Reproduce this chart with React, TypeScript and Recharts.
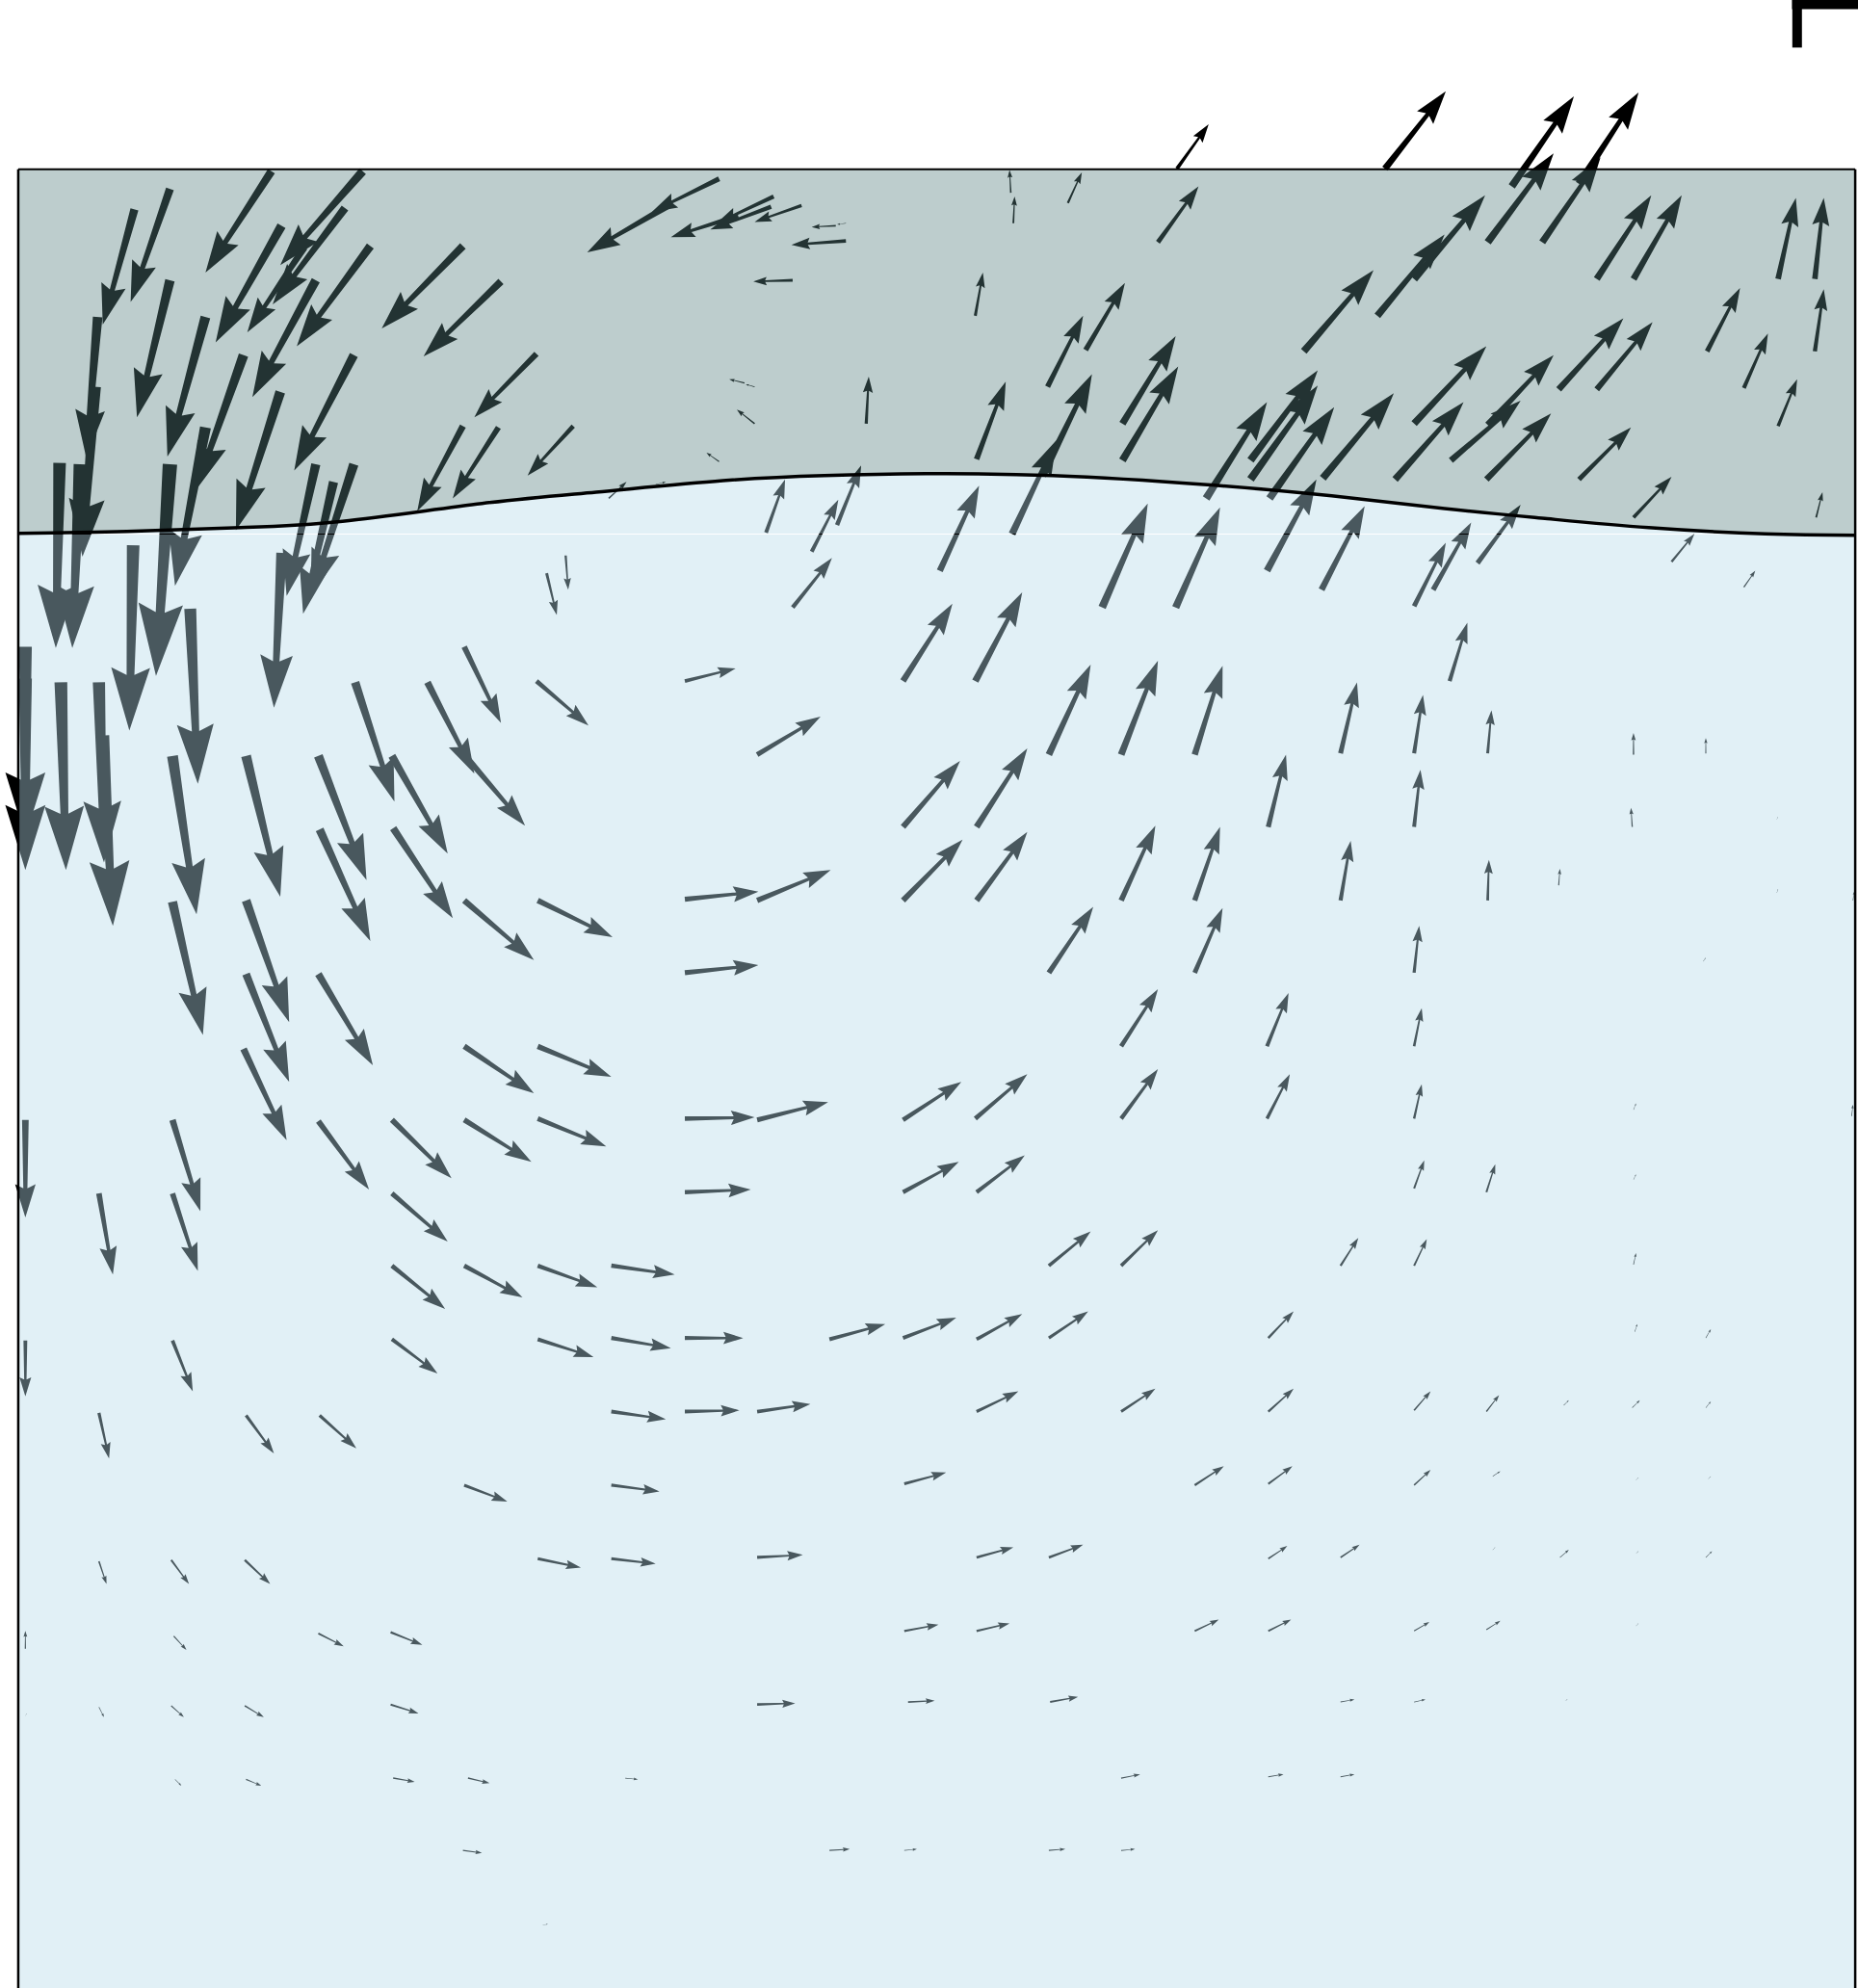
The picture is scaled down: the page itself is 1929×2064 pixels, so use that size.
import React from "react";
import { ComposedChart, Area, Line, Scatter, XAxis, YAxis, ReferenceLine } from "recharts";

type Seg = [number, number, number, number];

const WIDTH = 1929;
const HEIGHT = 2064;
const X_MAX = 1465;
const Y_MAX = 1567.5;
const FRAME = { left: 14.4, right: 1462.8, top: 133.4, bottom: 1567.5 };
const BAND_FLOOR = 421;

const waveX = [14.4, 100, 190, 270, 380, 470, 570, 650, 730, 830, 949, 1050, 1139, 1220, 1300, 1392, 1462.8];
const waveY = [420.5, 419, 416, 411, 397, 388, 379, 375, 373.5, 375, 382, 391, 401, 409, 416, 421, 422];

// tail x, tail y, tip x, tip y
const bandRight: Seg[] = [
  [799, 176, 800, 155], [797, 152, 796, 134], [842, 160, 853, 136], [928, 133, 953, 98], [913, 191, 945, 147],
  [1092, 133, 1140, 72], [1192, 147, 1241, 76], [1173, 191, 1225, 121], [1216, 191, 1262, 124], [1245, 145, 1292, 73],
  [1259, 220, 1302, 154], [1288, 220, 1326, 154], [1402, 220, 1416, 156], [1431, 220, 1438, 156], [1346, 277, 1372, 227],
  [1431, 277, 1438, 228], [1375, 306, 1394, 263], [1402, 336, 1417, 299], [1229, 307, 1280, 251], [1259, 307, 1303, 254],
  [1115, 334, 1172, 273], [1144, 363, 1199, 316], [1173, 335, 1225, 280], [1172, 378, 1223, 326], [1100, 378, 1154, 317],
  [1245, 378, 1286, 337], [1288, 408, 1318, 376], [1086, 249, 1139, 185], [1115, 220, 1171, 154], [1028, 277, 1083, 213],
  [770, 362, 793, 301], [826, 305, 854, 249], [856, 276, 887, 223], [885, 334, 927, 265], [885, 363, 929, 289],
  [769, 249, 775, 215], [798, 421, 833, 347], [822, 375, 861, 295], [951, 393, 999, 317], [986, 363, 1039, 292],
  [986, 378, 1039, 304], [1001, 393, 1052, 321], [1043, 377, 1099, 310], [999, 450, 1038, 378], [1042, 465, 1076, 399],
  [927, 479, 962, 400], [869, 479, 905, 397], [741, 450, 772, 383], [1115, 478, 1140, 428], [1130, 465, 1160, 412],
  [1165, 444, 1199, 398], [1318, 443, 1336, 421], [1375, 463, 1384, 450], [1432, 408, 1437, 388],
];

const bandMiddle: Seg[] = [
  [567, 141, 514, 167], [529, 161, 463, 199], [610, 155, 565, 176], [582, 170, 529, 187], [608, 163, 560, 181],
  [632, 162, 595, 175], [667, 176, 660, 177], [659, 178, 640, 179], [667, 190, 624, 193], [625, 221, 594, 222],
  [595, 305, 588, 303], [587, 302, 575, 299], [595, 334, 581, 323], [567, 364, 557, 357], [683, 334, 685, 297],
  [452, 336, 416, 375], [423, 279, 374, 329], [393, 337, 357, 393], [365, 336, 329, 403], [480, 393, 494, 380],
  [517, 382, 525, 380], [604, 420, 619, 378], [640, 435, 661, 394], [660, 414, 679, 367], [625, 479, 656, 440],
  [446, 438, 448, 465], [431, 452, 439, 485],
];

const bandLeft: Seg[] = [
  [134, 149, 103, 238], [106, 165, 81, 256], [214, 135, 162, 215], [286, 135, 221, 209], [272, 164, 215, 240],
  [240, 195, 195, 262], [222, 178, 170, 270], [292, 194, 234, 273], [365, 194, 301, 259], [395, 222, 334, 281],
  [249, 221, 199, 313], [279, 280, 232, 371], [134, 221, 108, 329], [162, 250, 132, 360], [192, 280, 154, 387],
  [221, 309, 186, 418], [162, 337, 138, 462], [134, 366, 123, 533], [77, 250, 68, 361], [75, 305, 65, 439],
  [47, 365, 44, 511], [63, 366, 57, 511], [249, 366, 226, 470], [279, 366, 245, 470], [263, 380, 239, 484],
  [222, 436, 216, 558], [105, 430, 102, 576], [150, 480, 156, 618], [20, 510, 20, 660], [20, 535, 20, 686],
  [48, 538, 52, 686], [78, 538, 82, 680], [81, 580, 89, 730], [136, 596, 155, 721], [136, 711, 160, 816],
  [194, 596, 221, 707], [194, 710, 228, 806], [194, 768, 228, 853], [192, 827, 226, 899], [251, 596, 289, 694],
  [252, 654, 292, 742], [251, 768, 294, 840], [280, 538, 311, 632], [309, 596, 353, 673], [310, 653, 357, 724],
  [337, 538, 374, 610], [366, 510, 395, 570], [366, 595, 414, 651],
];

const interiorUpper: Seg[] = [
  [423, 537, 464, 572], [424, 710, 483, 739], [540, 537, 580, 527], [597, 595, 647, 565], [712, 537, 751, 476],
  [769, 537, 806, 467], [712, 652, 757, 600], [770, 652, 810, 590], [827, 595, 860, 524], [884, 595, 913, 521],
  [942, 595, 964, 525], [1000, 652, 1014, 595], [1057, 594, 1070, 538], [1115, 594, 1122, 548], [1143, 537, 1157, 491],
  [1173, 594, 1176, 560], [1115, 652, 1120, 607], [1057, 710, 1065, 663], [942, 710, 962, 652], [884, 710, 911, 651],
  [770, 710, 810, 656], [712, 710, 759, 662], [597, 710, 655, 686], [540, 709, 598, 703], [540, 767, 598, 761],
  [827, 767, 862, 715], [942, 767, 964, 716], [1115, 767, 1119, 730], [1173, 710, 1174, 678], [1229, 698, 1230, 685],
  [366, 710, 421, 757], [884, 825, 913, 780], [999, 825, 1016, 783], [1115, 825, 1121, 795], [1115, 882, 1121, 855],
  [999, 882, 1017, 847], [884, 882, 913, 843], [769, 882, 810, 847], [712, 883, 758, 853], [597, 883, 653, 869],
  [540, 882, 595, 881], [424, 825, 482, 849], [366, 825, 421, 862], [424, 882, 478, 904], [366, 883, 419, 916],
  [309, 883, 356, 929], [251, 884, 291, 938], [136, 883, 158, 955], [20, 883, 20, 960],
];

const interiorMiddle: Seg[] = [
  [136, 941, 156, 1002], [78, 941, 89, 1005], [309, 941, 353, 979], [309, 998, 351, 1032], [366, 998, 412, 1023],
  [424, 998, 471, 1015], [482, 998, 532, 1005], [540, 940, 592, 938], [712, 940, 756, 916], [770, 940, 808, 911],
  [827, 998, 860, 971], [884, 998, 913, 970], [1057, 998, 1071, 976], [1115, 998, 1125, 977], [1115, 937, 1123, 915],
  [1172, 940, 1179, 918], [20, 1057, 20, 1101], [136, 1057, 152, 1097], [309, 1056, 345, 1083], [424, 1056, 468, 1070],
  [482, 1055, 529, 1063], [540, 1055, 586, 1055], [654, 1056, 698, 1044], [712, 1055, 754, 1039], [770, 1056, 806, 1036],
  [827, 1055, 858, 1034], [1000, 1055, 1020, 1034], [78, 1114, 86, 1150], [194, 1116, 216, 1146], [252, 1116, 281, 1142],
  [482, 1113, 525, 1119], [540, 1113, 583, 1112], [597, 1113, 639, 1107], [770, 1113, 803, 1097], [884, 1113, 911, 1095],
  [1000, 1113, 1020, 1095], [1115, 1112, 1128, 1097], [1172, 1113, 1182, 1100], [366, 1171, 400, 1184], [482, 1171, 520, 1176],
  [713, 1170, 746, 1161], [942, 1171, 965, 1156], [1000, 1170, 1019, 1156], [1115, 1171, 1128, 1159], [1177, 1164, 1183, 1160],
];

const interiorLower: Seg[] = [
  [78, 1231, 84, 1249], [135, 1230, 149, 1249], [193, 1230, 213, 1249], [424, 1229, 458, 1236], [482, 1229, 517, 1233],
  [597, 1228, 633, 1226], [770, 1228, 799, 1220], [827, 1228, 854, 1218], [1000, 1229, 1015, 1219], [1057, 1228, 1072, 1218],
  [1230, 1228, 1237, 1222], [1345, 1228, 1350, 1223], [20, 1300, 20, 1286], [137, 1290, 147, 1301], [251, 1288, 271, 1298],
  [308, 1287, 333, 1297], [713, 1286, 740, 1281], [770, 1286, 796, 1280], [942, 1286, 961, 1277], [1000, 1286, 1018, 1277],
  [1115, 1286, 1127, 1279], [1172, 1285, 1183, 1278], [78, 1346, 82, 1354], [135, 1345, 145, 1354], [193, 1345, 208, 1354],
  [308, 1344, 330, 1351], [597, 1344, 627, 1343], [716, 1342, 737, 1341], [828, 1342, 850, 1338], [1057, 1342, 1068, 1340],
  [1115, 1342, 1124, 1340], [138, 1403, 143, 1408], [194, 1403, 206, 1408], [310, 1402, 327, 1405], [369, 1402, 386, 1406],
  [493, 1402, 503, 1403], [884, 1402, 899, 1399], [1000, 1401, 1012, 1399], [1057, 1401, 1068, 1399], [365, 1459, 380, 1461],
  [654, 1459, 670, 1458], [713, 1459, 723, 1458], [827, 1459, 840, 1458], [884, 1459, 895, 1458], [428, 1518, 432, 1517],
];

const interiorFaintRight: Seg[] = [
  [1287, 1110, 1293, 1104], [1233, 1108, 1237, 1104], [1345, 1110, 1349, 1105], [1289, 1050, 1291, 1044], [1345, 1055, 1349, 1048],
  [1288, 997, 1290, 988], [1288, 930, 1290, 926], [1288, 875, 1290, 870], [1343, 758, 1345, 755], [1401, 704, 1402, 701],
  [1401, 646, 1402, 644], [1287, 652, 1286, 637], [1345, 594, 1345, 582], [1288, 595, 1288, 578], [1461, 710, 1462, 703],
  [1460, 880, 1461, 871], [1290, 1167, 1292, 1165], [1347, 1166, 1349, 1164], [1290, 1225, 1292, 1223], [1234, 1341, 1236, 1340],
  [1177, 1222, 1179, 1220], [1290, 1282, 1292, 1280], [20, 1353, 21, 1351],
];

const arrowData = [...bandLeft, ...bandMiddle, ...bandRight, ...interiorUpper, ...interiorMiddle, ...interiorLower, ...interiorFaintRight].map(
  ([x, y, tx, ty]) => ({ x, y, tx, ty })
);
const waveData = waveX.map((x, i) => ({ x, wave: waveY[i], band: [FRAME.top, waveY[i]], dip: [waveY[i], Math.max(waveY[i], BAND_FLOOR - 0.2)] }));
const lowerData = [FRAME.left, FRAME.right].map((x) => ({ x, low: [BAND_FLOOR + 0.4, FRAME.bottom] }));

const SX = WIDTH / X_MAX;
const SY = HEIGHT / Y_MAX;

function ArrowShape(props: any) {
  const { cx, cy, payload } = props;
  const dx = (payload.tx - payload.x) * SX;
  const dy = (payload.ty - payload.y) * SY;
  const L = Math.hypot(dx, dy);
  if (!L) return <g />;
  const ux = dx / L, uy = dy / L, nx = -uy, ny = ux;
  const tipX = cx + dx, tipY = cy + dy;
  const tailHalf = 0.034 * L;
  const neckHalf = 0.021 * L;
  const headL = 0.34 * L, headHalf = 0.105 * L, notch = 0.3 * L;
  const bx = tipX - ux * headL, by = tipY - uy * headL;
  const mx = tipX - ux * notch, my = tipY - uy * notch;
  const d = [
    `M${cx + nx * tailHalf} ${cy + ny * tailHalf}`,
    `L${mx + nx * neckHalf} ${my + ny * neckHalf}`,
    `L${bx + nx * headHalf} ${by + ny * headHalf}`,
    `L${tipX} ${tipY}`,
    `L${bx - nx * headHalf} ${by - ny * headHalf}`,
    `L${mx - nx * neckHalf} ${my - ny * neckHalf}`,
    `L${cx - nx * tailHalf} ${cy - ny * tailHalf}Z`,
  ].join("");
  return <path d={d} fill="#000" />;
}

const segLine = (a: [number, number], b: [number, number]) => [{ x: a[0], y: a[1] }, { x: b[0], y: b[1] }];

export default function App() {
  return (
    <div style={{ position: "absolute", left: 0, top: 0, width: WIDTH, height: HEIGHT, background: "#fff", overflow: "hidden" }}>
      <ComposedChart width={WIDTH} height={HEIGHT} margin={{ top: 0, right: 0, bottom: 0, left: 0 }} data={waveData}>
        <XAxis dataKey="x" type="number" domain={[0, X_MAX]} hide allowDataOverflow />
        <YAxis dataKey="y" type="number" domain={[0, Y_MAX]} reversed hide width={0} allowDataOverflow />
        <Scatter data={arrowData} shape={<ArrowShape />} isAnimationActive={false} zIndex={50} />
        <Area data={waveData} dataKey="band" type="natural" stroke="none" fill="rgb(88,129,129)" fillOpacity={0.396} isAnimationActive={false} dot={false} activeDot={false} />
        <Area data={waveData} dataKey="dip" type="natural" stroke="none" fill="rgb(181,218,233)" fillOpacity={0.404} isAnimationActive={false} dot={false} activeDot={false} />
        <Area data={lowerData} dataKey="low" type="linear" stroke="none" fill="rgb(181,218,233)" fillOpacity={0.404} isAnimationActive={false} dot={false} activeDot={false} />
        <Line data={waveData} dataKey="wave" type="natural" stroke="#000" strokeWidth={3.5} dot={false} activeDot={false} isAnimationActive={false} />
        <ReferenceLine segment={segLine([FRAME.left, FRAME.top], [FRAME.right, FRAME.top])} stroke="#000" strokeWidth={2} />
        <ReferenceLine segment={segLine([FRAME.left, FRAME.top], [FRAME.left, FRAME.bottom])} stroke="#000" strokeWidth={2.5} />
        <ReferenceLine segment={segLine([FRAME.right, FRAME.top], [FRAME.right, FRAME.bottom])} stroke="#000" strokeWidth={2.5} />
        <ReferenceLine segment={segLine([1417, 0], [1417, 37.5])} stroke="#000" strokeWidth={10} />
        <ReferenceLine segment={segLine([1413, 3.5], [1465, 3.5])} stroke="#000" strokeWidth={10} />
      </ComposedChart>
    </div>
  );
}
